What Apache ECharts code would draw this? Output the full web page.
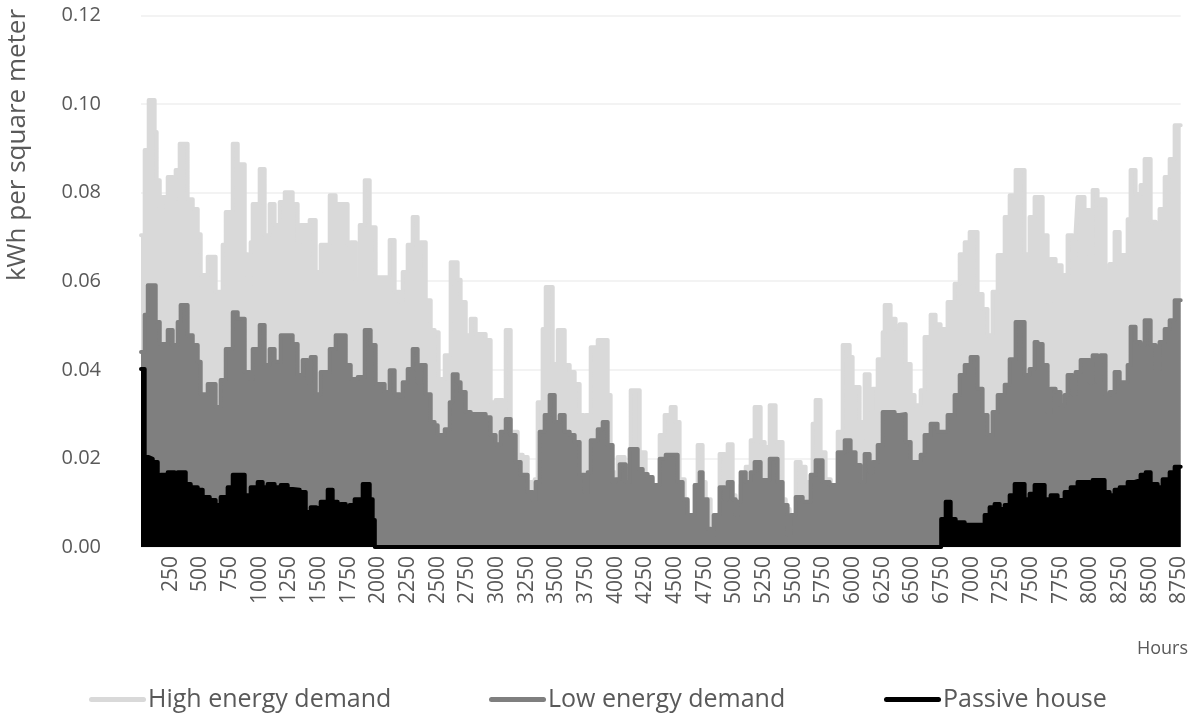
<!DOCTYPE html>
<html>
<head>
<meta charset="utf-8">
<script src="https://cdn.jsdelivr.net/npm/echarts@6/dist/echarts.min.js"></script>
<style>
html,body{margin:0;padding:0;background:#fff;}
#chart{width:1190px;height:718px;}
</style>
</head>
<body>
<div id="chart"></div>
<script>
// Envelope of hourly demand (kWh per m2)
const seriesNames = ['High energy demand', 'Low energy demand', 'Passive house'];

const highHours = [0,31,65,115,132,158,183,225,267,292,326,393,436,478,503,562,629,688,714,773,815,874,899,924,941,1000,1042,1084,1126,1169,1211,1278,1320,1345,1404,1421,1472,1514,1590,1640,1741,1767,1809,1843,1885,1927,1977,2095,2137,2180,2205,2247,2289,2331,2356,2399,2441,2474,2508,2559,2609,2668,2693,2736,2778,2820,2904,2946,2988,3047,3073,3115,3174,3216,3258,3300,3317,3342,3384,3410,3469,3511,3570,3612,3654,3696,3730,3747,3789,3848,3932,3957,3991,4016,4075,4126,4202,4252,4311,4370,4412,4463,4505,4538,4581,4606,4665,4690,4732,4758,4800,4833,4875,4918,4943,4985,5010,5027,5052,5095,5137,5170,5221,5255,5297,5347,5406,5432,5465,5491,5516,5558,5600,5659,5684,5726,5768,5811,5870,5912,5971,5996,6055,6080,6097,6139,6165,6207,6249,6266,6316,6358,6392,6443,6485,6518,6569,6602,6653,6695,6737,6796,6855,6898,6940,6982,7049,7091,7133,7175,7218,7277,7319,7369,7445,7487,7529,7597,7639,7664,7706,7757,7782,7807,7849,7875,7891,7950,7993,8018,8060,8085,8127,8161,8203,8246,8313,8338,8380,8422,8456,8507,8549,8582,8625,8667,8709,8760];
const highValues = [0.0704,0.0896,0.1009,0.0937,0.0828,0.0767,0.0790,0.0835,0.0785,0.0851,0.0910,0.0785,0.0763,0.0706,0.0614,0.0655,0.0576,0.0682,0.0756,0.0910,0.0864,0.0661,0.0594,0.0688,0.0774,0.0853,0.0704,0.0774,0.0727,0.0779,0.0801,0.0774,0.0688,0.0727,0.0659,0.0738,0.0621,0.0682,0.0794,0.0774,0.0682,0.0688,0.0603,0.0727,0.0828,0.0722,0.0609,0.0693,0.0576,0.0553,0.0621,0.0682,0.0745,0.0627,0.0688,0.0557,0.0490,0.0485,0.0379,0.0433,0.0643,0.0603,0.0553,0.0478,0.0515,0.0481,0.0467,0.0327,0.0332,0.0253,0.0490,0.0260,0.0208,0.0203,0.0147,0.0117,0.0153,0.0327,0.0492,0.0587,0.0413,0.0490,0.0411,0.0395,0.0368,0.0298,0.0163,0.0298,0.0451,0.0467,0.0343,0.0169,0.0147,0.0203,0.0176,0.0354,0.0214,0.0153,0.0140,0.0253,0.0298,0.0316,0.0282,0.0153,0.0102,0.0072,0.0140,0.0230,0.0147,0.0108,0,0.0056,0.0210,0.0147,0.0232,0.0117,0.0079,0.0034,0.0140,0.0181,0.0241,0.0316,0.0237,0.0226,0.0320,0.0237,0.0108,0.0086,0.0041,0.0072,0.0192,0.0181,0.0147,0.0278,0.0332,0.0214,0.0153,0.0140,0.0260,0.0456,0.0429,0.0361,0.0282,0.0248,0.0390,0.0309,0.0357,0.0424,0.0485,0.0546,0.0515,0.0492,0.0503,0.0413,0.0343,0.0320,0.0354,0.0474,0.0524,0.0503,0.0492,0.0553,0.0594,0.0661,0.0688,0.0711,0.0571,0.0537,0.0478,0.0576,0.0659,0.0745,0.0794,0.0851,0.0661,0.0745,0.0790,0.0704,0.0553,0.0650,0.0636,0.0560,0.0614,0.0704,0.0614,0.0711,0.0790,0.0761,0.0659,0.0806,0.0772,0.0785,0.0621,0.0639,0.0711,0.0659,0.0740,0.0851,0.0797,0.0817,0.0876,0.0734,0.0715,0.0763,0.0835,0.0876,0.0952,0.0952];

const lowHours = [0,31,57,124,158,225,267,309,334,393,436,478,503,562,629,671,714,773,815,874,916,941,1000,1042,1084,1126,1177,1278,1320,1362,1404,1430,1472,1514,1590,1640,1725,1767,1826,1885,1935,1977,2053,2095,2137,2180,2205,2247,2289,2331,2356,2399,2441,2474,2500,2559,2601,2626,2668,2693,2736,2778,2904,2946,2988,3030,3073,3115,3157,3199,3258,3300,3325,3359,3401,3443,3486,3528,3570,3612,3654,3696,3738,3763,3789,3848,3890,3932,3974,3999,4033,4083,4117,4185,4227,4269,4311,4370,4421,4522,4564,4606,4665,4707,4732,4774,4800,4825,4875,4918,4943,4985,5010,5027,5052,5095,5137,5170,5221,5297,5364,5406,5448,5474,5516,5575,5642,5684,5743,5802,5870,5929,5979,6021,6063,6097,6139,6165,6207,6249,6350,6392,6443,6485,6569,6602,6653,6712,6796,6855,6898,6940,6990,7049,7091,7133,7175,7218,7277,7319,7369,7445,7487,7529,7555,7597,7639,7664,7706,7748,7782,7807,7849,7875,7917,7993,8018,8060,8085,8127,8161,8203,8246,8313,8338,8380,8422,8456,8507,8549,8582,8625,8667,8709,8760];
const lowValues = [0.0440,0.0524,0.0591,0.0508,0.0458,0.0490,0.0456,0.0508,0.0546,0.0478,0.0456,0.0418,0.0345,0.0368,0.0316,0.0377,0.0447,0.0530,0.0515,0.0395,0.0379,0.0447,0.0501,0.0411,0.0447,0.0418,0.0478,0.0458,0.0388,0.0422,0.0372,0.0429,0.0345,0.0395,0.0447,0.0478,0.0411,0.0379,0.0384,0.0490,0.0456,0.0368,0.0350,0.0399,0.0345,0.0339,0.0372,0.0402,0.0447,0.0372,0.0411,0.0345,0.0282,0.0275,0.0253,0.0266,0.0327,0.0390,0.0372,0.0350,0.0305,0.0300,0.0293,0.0253,0.0232,0.0260,0.0289,0.0253,0.0192,0.0163,0.0124,0.0106,0.0147,0.0260,0.0298,0.0343,0.0282,0.0298,0.0260,0.0253,0.0237,0.0163,0.0124,0.0169,0.0241,0.0266,0.0282,0.0230,0.0147,0.0153,0.0187,0.0147,0.0221,0.0176,0.0165,0.0158,0.0140,0.0199,0.0208,0.0147,0.0108,0.0072,0.0140,0.0169,0.0108,0.0041,0,0.0072,0.0135,0.0108,0.0147,0.0108,0.0072,0.0102,0.0169,0.0147,0.0169,0.0192,0.0151,0.0199,0.0147,0.0095,0.0027,0.0072,0.0113,0.0102,0.0163,0.0196,0.0147,0.0140,0.0214,0.0241,0.0214,0.0185,0.0147,0.0210,0.0169,0.0192,0.0230,0.0305,0.0298,0.0300,0.0237,0.0192,0.0208,0.0253,0.0278,0.0260,0.0298,0.0343,0.0388,0.0411,0.0429,0.0357,0.0298,0.0253,0.0305,0.0343,0.0366,0.0424,0.0508,0.0388,0.0402,0.0463,0.0458,0.0411,0.0305,0.0357,0.0350,0.0320,0.0343,0.0388,0.0345,0.0395,0.0422,0.0372,0.0433,0.0372,0.0433,0.0343,0.0350,0.0395,0.0372,0.0411,0.0497,0.0463,0.0456,0.0512,0.0456,0.0402,0.0463,0.0492,0.0512,0.0557,0.0557];

const passiveHours = [0,31,65,99,141,166,225,284,309,377,419,478,520,579,629,671,730,773,874,924,983,1025,1067,1126,1177,1236,1278,1337,1388,1430,1472,1514,1573,1615,1657,1682,1725,1758,1800,1868,1927,1952,1970,6742,6780,6822,6864,6940,7108,7150,7192,7235,7277,7319,7361,7445,7487,7529,7614,7664,7723,7782,7833,7891,7993,8018,8119,8161,8203,8246,8313,8372,8422,8465,8507,8566,8608,8667,8709,8760];
const passiveValues = [0.0402,0.0203,0.0199,0.0192,0.0153,0.0163,0.0169,0.0163,0.0169,0.0142,0.0135,0.0129,0.0113,0.0106,0.0095,0.0113,0.0135,0.0163,0.0117,0.0135,0.0147,0.0135,0.0142,0.0135,0.0140,0.0131,0.0129,0.0124,0.0079,0.0090,0.0086,0.0102,0.0129,0.0102,0.0090,0.0097,0.0084,0.0095,0.0108,0.0142,0.0108,0.0061,0,0.0063,0.0102,0.0063,0.0056,0.0050,0.0072,0.0090,0.0097,0.0086,0.0095,0.0117,0.0142,0.0108,0.0120,0.0140,0.0108,0.0117,0.0106,0.0124,0.0135,0.0147,0.0131,0.0151,0.0124,0.0117,0.0129,0.0135,0.0147,0.0151,0.0163,0.0169,0.0142,0.0135,0.0153,0.0169,0.0181,0.0181];

const colors = ['#d9d9d9', '#7f7f7f', '#000000'];
const FONT = 'Open Sans';
const TXT = '#595959';

function zip(h, v) { return h.map((x, i) => [x, v[i]]); }
const allData = [zip(highHours, highValues), zip(lowHours, lowValues), zip(passiveHours, passiveValues)];

const chart = echarts.init(document.getElementById('chart'), null, {renderer: 'canvas'});
const legendIcon = 'path://M2.5,0 L54.5,0 A2.5,2.5 0 0 1 54.5,5 L2.5,5 A2.5,2.5 0 0 1 2.5,0 Z';
const legendLefts = [84, 484, 879];

chart.setOption({
  animation: false,
  backgroundColor: '#ffffff',
  textStyle: {fontFamily: FONT},
  grid: {left: 141, right: 9, top: 15.4, bottom: 171, containLabel: false},
  legend: seriesNames.map((n, i) => ({
    data: [n],
    left: legendLefts[i], top: 682,
    itemWidth: 57, itemHeight: 5,
    icon: legendIcon,
    textStyle: {fontFamily: FONT, fontSize: 25, color: TXT, padding: [0, 0, 0, -3]}
  })),
  xAxis: {
    type: 'value', min: 0, max: 8760, interval: 250,
    axisLine: {show: false}, axisTick: {show: false}, splitLine: {show: false},
    axisLabel: {
      rotate: 90, margin: 9, fontSize: 21, color: TXT, fontFamily: FONT,
      showMinLabel: false, showMaxLabel: false,
      formatter: v => (v > 0 && v % 250 === 0) ? String(v) : ''
    }
  },
  yAxis: {
    type: 'value', min: 0, max: 0.12, interval: 0.02,
    axisLine: {show: false}, axisTick: {show: false},
    splitLine: {lineStyle: {color: '#efefef', width: 1.5}},
    axisLabel: {margin: 40, fontSize: 20, color: TXT, fontFamily: FONT, formatter: v => v.toFixed(2)}
  },
  graphic: [
    {type: 'text', x: 18, y: 145, rotation: Math.PI / 2,
     style: {text: 'kWh per square meter', fontFamily: FONT, fontSize: 26, fill: TXT, align: 'center', verticalAlign: 'middle'}},
    {type: 'text', right: 2, top: 640,
     style: {text: 'Hours', fontFamily: FONT, fontSize: 18, fill: TXT}}
  ],
  series: allData.map((d, i) => ({
    name: seriesNames[i], type: 'line', step: 'end', data: d,
    showSymbol: false, symbol: 'none', z: 2 + i,
    lineStyle: {color: colors[i], width: 4, join: 'round', cap: 'round'},
    itemStyle: {color: colors[i]},
    areaStyle: {color: colors[i], opacity: 1}
  }))
});
</script>
</body>
</html>
